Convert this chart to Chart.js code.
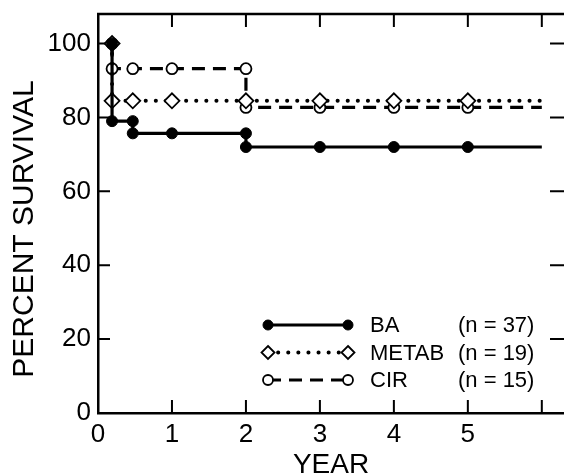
<!DOCTYPE html>
<html>
<head>
<meta charset="utf-8">
<script src="https://cdn.jsdelivr.net/npm/chart.js@4.4.1/dist/chart.umd.min.js"></script>
<style>
  html, body { margin: 0; padding: 0; background: #fff; }
  #wrap { position: relative; width: 564px; height: 476px; }
</style>
</head>
<body>
<div id="wrap"><canvas id="survivalChart"></canvas></div>
<script>
// Survival curves (year, percent survival)
const baYears = [0.19, 0.19, 0.47, 0.47, 1, 2, 2, 3, 4, 5, 6];
const baSurvival = [100, 79, 79, 75.7, 75.7, 75.7, 72, 72, 72, 72, 72];

const metabYears = [0.19, 0.19, 0.47, 1, 2, 3, 4, 5, 6];
const metabSurvival = [100, 84.5, 84.5, 84.5, 84.5, 84.5, 84.5, 84.5, 84.5];

const cirYears = [0.19, 0.19, 0.47, 1, 2, 2, 3, 4, 5, 6];
const cirSurvival = [100, 93.2, 93.2, 93.2, 93.2, 82.7, 82.7, 82.7, 82.7, 82.7];

// axis labels and tick marks
const xTickLabels = [0, 1, 2, 3, 4, 5];
const yTickLabels = [0, 20, 40, 60, 80, 100];
const xMarks = [1, 2, 3, 4, 5, 6];
const yMarks = [20, 40, 60, 80, 100];

const legendNames = ['BA', 'METAB', 'CIR'];
const legendCounts = ['(n = 37)', '(n = 19)', '(n = 15)'];
const yTitle = 'PERCENT SURVIVAL';

const FONT = "'Liberation Sans', Arial, Helvetica, sans-serif";

function toPoints(xs, ys) {
  return xs.map((v, i) => ({ x: v, y: ys[i] }));
}

// no marker on the last point of each curve (line just runs out to year 6)
function radii(n, r) {
  return Array.from({ length: n }, (_, i) => (i === n - 1 ? 0 : r));
}

// chart.js keeps a few px of label padding even with fixed sizes, drop it
function noPadding(scale) {
  scale.paddingLeft = 0;
  scale.paddingRight = 0;
  scale.paddingTop = 0;
  scale.paddingBottom = 0;
}

function drawMarker(ctx, ds, x, y, r) {
  ctx.save();
  ctx.setLineDash([]);
  ctx.beginPath();
  if (ds.pointStyle === 'rectRot') {
    ctx.moveTo(x, y - r); ctx.lineTo(x + r, y); ctx.lineTo(x, y + r); ctx.lineTo(x - r, y);
    ctx.closePath();
  } else {
    ctx.arc(x, y, r, 0, Math.PI * 2);
  }
  ctx.fillStyle = ds.pointBackgroundColor;
  ctx.fill();
  ctx.lineWidth = ds.pointBorderWidth;
  ctx.strokeStyle = ds.pointBorderColor;
  ctx.stroke();
  ctx.restore();
}

// box top line + inward tick marks, y title and the legend block
const framePlugin = {
  id: 'frame',
  beforeDatasetsDraw(chart) {
    const { ctx, chartArea: a, scales: { x, y } } = chart;
    ctx.save();
    ctx.strokeStyle = '#000';
    ctx.lineWidth = 2.5;
    ctx.beginPath();
    ctx.moveTo(a.left - 1, a.top);
    ctx.lineTo(a.right, a.top);
    ctx.stroke();
    ctx.lineWidth = 2;
    ctx.beginPath();
    xMarks.forEach(v => {
      const px = x.getPixelForValue(v);
      ctx.moveTo(px, a.bottom); ctx.lineTo(px, a.bottom - 13);
      ctx.moveTo(px, a.top); ctx.lineTo(px, a.top + 13);
    });
    yMarks.forEach(v => {
      const py = y.getPixelForValue(v);
      ctx.moveTo(a.left, py); ctx.lineTo(a.left + 12, py);
      ctx.moveTo(a.right, py); ctx.lineTo(a.right - 14, py);
    });
    ctx.stroke();

    // rotated y title, sits a bit below the plot centre in the original
    ctx.fillStyle = '#000';
    ctx.font = `30px ${FONT}`;
    ctx.textAlign = 'center';
    ctx.textBaseline = 'middle';
    ctx.translate(25, 229);
    ctx.rotate(-Math.PI / 2);
    ctx.fillText(yTitle, 0, 0);
    ctx.restore();
  },
  afterDraw(chart) {
    const ctx = chart.ctx;
    ctx.save();
    ctx.fillStyle = '#000';
    ctx.strokeStyle = '#000';
    ctx.font = `22px ${FONT}`;
    ctx.textBaseline = 'middle';
    chart.data.datasets.forEach((ds, i) => {
      const ly = 325 + i * 27.5;
      ctx.setLineDash(ds.borderDash || []);
      ctx.lineCap = ds.borderCapStyle || 'butt';
      ctx.lineWidth = ds.borderWidth;
      ctx.beginPath();
      ctx.moveTo(268, ly);
      ctx.lineTo(348, ly);
      ctx.stroke();
      drawMarker(ctx, ds, 268, ly, ds.pointStyle === 'rectRot' ? 6.5 : 5);
      drawMarker(ctx, ds, 348, ly, ds.pointStyle === 'rectRot' ? 6.5 : 5);
      ctx.fillText(legendNames[i], 370, ly + 1);
      ctx.fillText(legendCounts[i], 458, ly + 1);
    });
    ctx.restore();
  }
};

const ctx = document.getElementById('survivalChart').getContext('2d');

new Chart(ctx, {
  type: 'line',
  data: {
    datasets: [
      {
        label: 'BA',
        data: toPoints(baYears, baSurvival),
        borderColor: '#000',
        borderWidth: 3.2,
        pointStyle: 'circle',
        pointRadius: radii(baYears.length, 5.5),
        pointBackgroundColor: '#000',
        pointBorderColor: '#000',
        pointBorderWidth: 1,
        tension: 0
      },
      {
        label: 'METAB',
        data: toPoints(metabYears, metabSurvival),
        borderColor: '#000',
        borderWidth: 4,
        borderDash: [0.1, 10],
        borderCapStyle: 'round',
        pointStyle: 'rectRot',
        pointRadius: radii(metabYears.length, 7.5),
        pointBackgroundColor: '#fff',
        pointBorderColor: '#000',
        pointBorderWidth: 1.8,
        tension: 0
      },
      {
        label: 'CIR',
        data: toPoints(cirYears, cirSurvival),
        borderColor: '#000',
        borderWidth: 3.2,
        borderDash: [13, 8],
        pointStyle: 'circle',
        pointRadius: radii(cirYears.length, 5.5),
        pointBackgroundColor: '#fff',
        pointBorderColor: '#000',
        pointBorderWidth: 1.8,
        tension: 0
      }
    ]
  },
  options: {
    responsive: true,
    maintainAspectRatio: false,
    animation: false,
    layout: { autoPadding: false, padding: { top: 14, right: 0, bottom: 0, left: 0 } },
    plugins: {
      legend: { display: false },
      tooltip: { enabled: false }
    },
    scales: {
      x: {
        type: 'linear',
        min: 0,
        max: 6.3,
        afterBuildTicks: scale => { scale.ticks = xTickLabels.map(v => ({ value: v })); },
        afterFit: scale => { scale.height = 63; noPadding(scale); },
        grid: { display: false, drawTicks: false },
        border: { display: true, color: '#000', width: 2.5 },
        ticks: { color: '#000', padding: 6, maxRotation: 0, font: { family: FONT, size: 26 } },
        title: {
          display: true,
          text: 'YEAR',
          color: '#000',
          padding: { top: 0, bottom: 0 },
          font: { family: FONT, size: 28, lineHeight: 0.8 }
        }
      },
      y: {
        type: 'linear',
        min: 0,
        max: 108,
        afterBuildTicks: scale => { scale.ticks = yTickLabels.map(v => ({ value: v })); },
        afterFit: scale => { scale.width = 98; noPadding(scale); },
        grid: { display: false, drawTicks: false },
        border: { display: true, color: '#000', width: 2.5 },
        ticks: { color: '#000', padding: 7, font: { family: FONT, size: 26 } }
      }
    }
  },
  plugins: [framePlugin]
});
</script>
</body>
</html>
